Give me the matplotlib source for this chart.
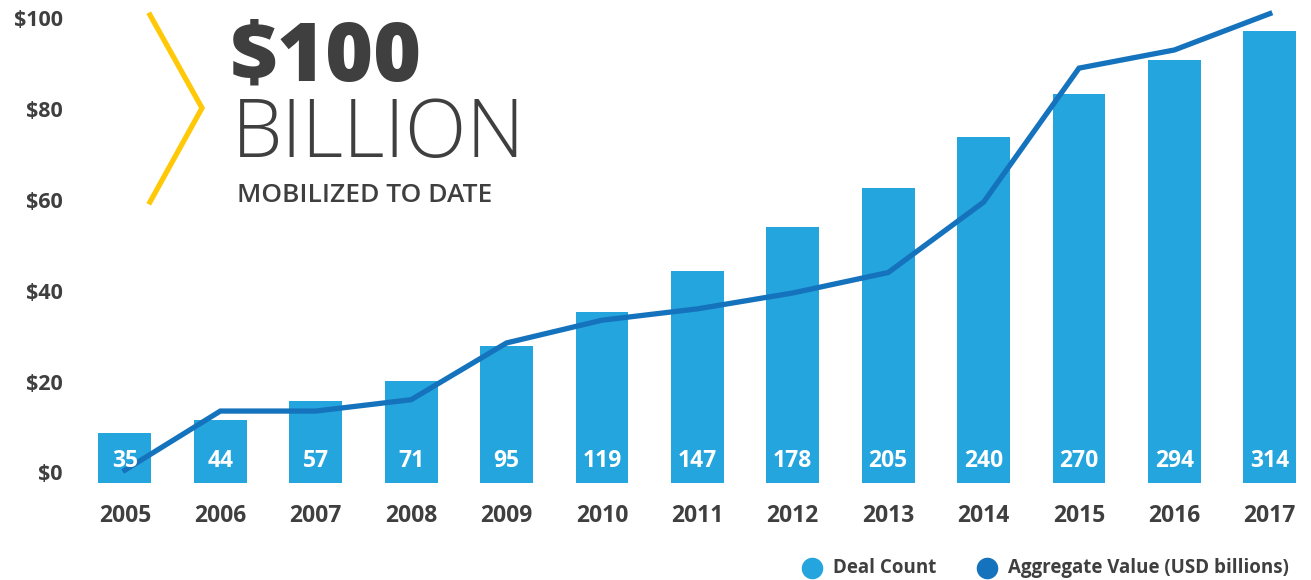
import matplotlib.pyplot as plt
from matplotlib.lines import Line2D

# data
years = ["2005", "2006", "2007", "2008", "2009", "2010", "2011",
         "2012", "2013", "2014", "2015", "2016", "2017"]
deal_count = [35, 44, 57, 71, 95, 119, 147, 178, 205, 240, 270, 294, 314]
aggregate_value = [0.5, 13.5, 13.5, 16, 28.5, 33.5, 36, 39.5, 44, 59.5, 89, 93, 101]
y_ticks = [0, 20, 40, 60, 80, 100]

BAR_COLOR = "#25a5dd"
LINE_COLOR = "#1573bd"
TEXT_COLOR = "#3f3f3f"
YELLOW = "#ffc907"
FONT = ["Open Sans", "DejaVu Sans"]

plt.rcParams["font.family"] = FONT

W, H = 1311, 580
fig = plt.figure(figsize=(W / 100, H / 100), dpi=100)

# axes placed in pixels
left_px, right_px, top_px, bottom_px = 82, 1308, 0, 486
ax = fig.add_axes([left_px / W, 1 - bottom_px / H,
                   (right_px - left_px) / W, (bottom_px - top_px) / H])
ax2 = ax.twinx()
ax.set_zorder(ax2.get_zorder() + 1)
ax.patch.set_visible(False)

x = list(range(len(years)))

# bars on secondary (hidden) scale
ax2.bar(x, deal_count, width=0.555, color=BAR_COLOR, zorder=1)
ax2.set_ylim(-1.94, 335.4)
ax2.axis("off")

# line on primary $ scale
ax.plot(x, aggregate_value, color=LINE_COLOR, lw=3.8, solid_joinstyle="miter",
        zorder=3)
ax.set_xlim(-0.45, 12.4)
ax.set_ylim(-3, 104)

for xi, c in zip(x, deal_count):
    ax.text(xi, 2.6, str(c), ha="center", va="center", color="white",
            fontsize=16.5, fontweight="bold", zorder=4)

ax.set_xticks(x)
ax.set_xticklabels(years, fontsize=16.5, fontweight="bold", color=TEXT_COLOR)
ax.set_yticks(y_ticks)
ax.set_yticklabels([f"${v}" for v in y_ticks], fontsize=15.5,
                   fontweight="bold", color=TEXT_COLOR)
ax.tick_params(axis="both", length=0)
ax.tick_params(axis="y", pad=14)
ax.tick_params(axis="x", pad=13)
for s in ax.spines.values():
    s.set_visible(False)


def fx(px):
    return px / W


def fy(py):
    return 1 - py / H


# headline
fig.add_artist(Line2D([fx(150), fx(202), fx(150)], [fy(15), fy(108), fy(202)],
                      color=YELLOW, lw=3.8, solid_joinstyle="miter"))
fig.text(fx(230), fy(80), "$100", fontsize=59, fontweight="heavy",
         color=TEXT_COLOR, va="baseline", ha="left")
fig.text(fx(232), fy(157), "BILLION", fontsize=58, fontweight="light",
         color=TEXT_COLOR, va="baseline", ha="left")
fig.text(fx(237), fy(202), "MOBILIZED TO DATE", fontsize=19,
         fontweight="semibold", color=TEXT_COLOR, va="baseline", ha="left")

# legend
for cx, tx, col, label in [(812, 833, BAR_COLOR, "Deal Count"),
                           (987, 1008, LINE_COLOR, "Aggregate Value (USD billions)")]:
    fig.add_artist(Line2D([fx(cx)], [fy(568)], marker="o", markersize=14.5,
                          color=col, lw=0))
    fig.text(fx(tx), fy(568), label, fontsize=13.5, fontweight="bold",
             color=TEXT_COLOR, va="center", ha="left")

fig.savefig("out.png", dpi=100)
